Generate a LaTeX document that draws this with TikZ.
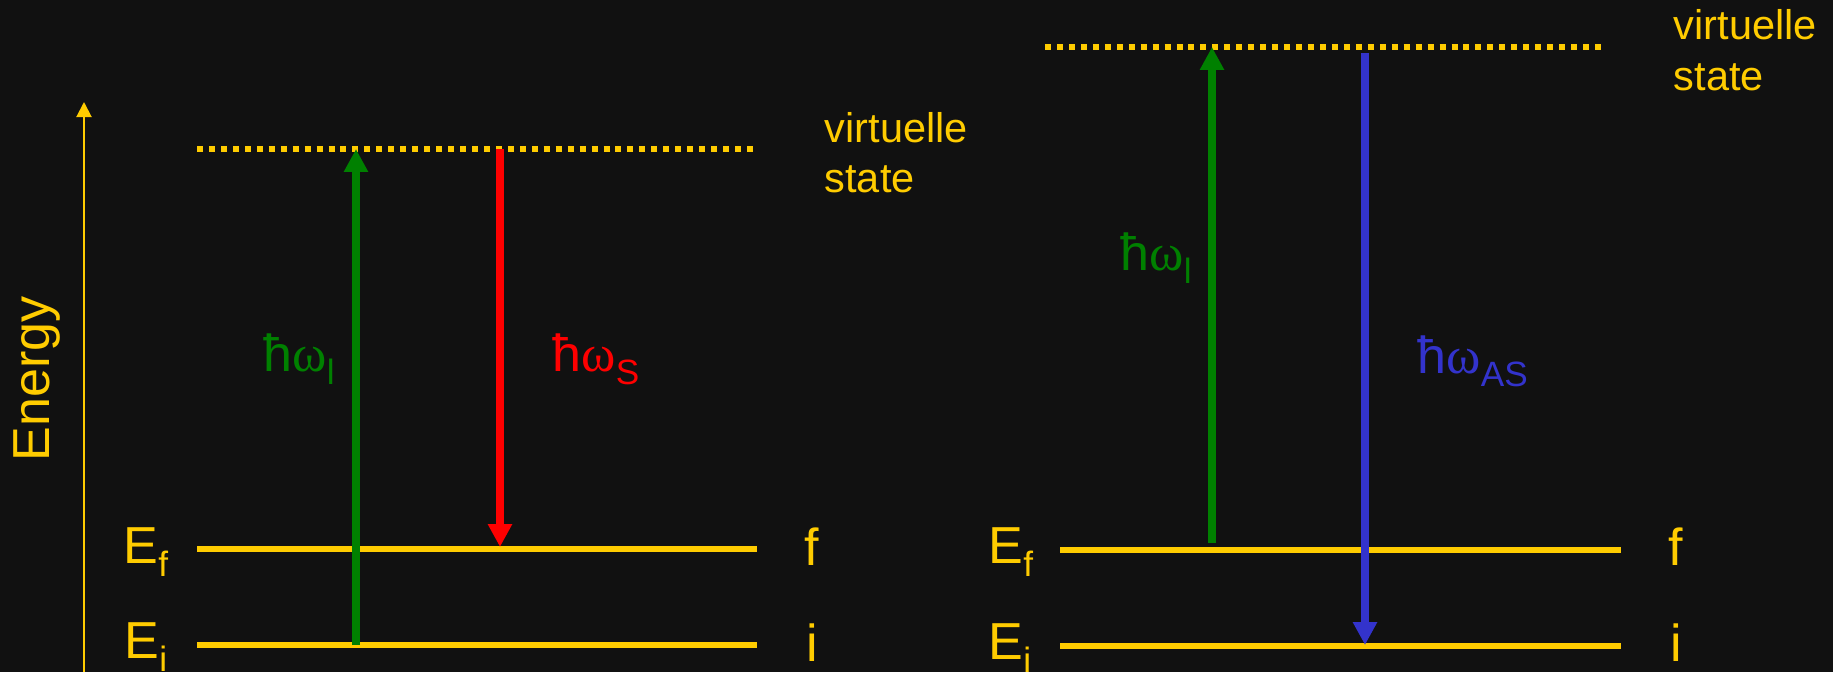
\documentclass[tikz,border=0pt]{standalone}
\usepackage{fontspec}
\setmainfont{Liberation Sans}
\newfontfamily\greekserif{Liberation Serif}
\usetikzlibrary{arrows.meta}

\definecolor{bg}{HTML}{111111}
\definecolor{gold}{HTML}{FFCC00}
\definecolor{lasergreen}{HTML}{008000}
\definecolor{stokesred}{HTML}{FF0000}
\definecolor{asblue}{HTML}{3333CC}

\newcommand{\mainsize}{\fontsize{14.8pt}{17pt}\selectfont}
\newcommand{\subsize}{\fontsize{10pt}{12pt}\selectfont}
\newcommand{\lowsub}[1]{\raisebox{-3.8pt}{\subsize #1}}
\newcommand{\hbaromega}{ħ{\greekserif ω}}

\tikzset{
  txt/.style={text=gold, inner sep=0pt, font=\mainsize},
  smalltxt/.style={text=gold, inner sep=0pt, font=\fontsize{11.8pt}{14pt}\selectfont},
  photonlabel/.style={inner sep=0pt, font=\mainsize, anchor=base west},
  level/.style={draw=gold, line width=1.7pt},
  virtual/.style={draw=gold, line width=1.7pt, dash pattern=on 1.7pt off 1.7pt},
  photon/.style={line width=2.27pt, -{Triangle[width=6.5pt,length=6.5pt]}},
  axisline/.style={draw=gold, line width=0.57pt, -{Triangle[width=4.3pt,length=4.3pt]}}
}

\begin{document}
\begin{tikzpicture}[x=0.01cm, y=-0.01cm]
  % canvas
  \fill[bg] (0,0) rectangle (1833,672);
  \useasboundingbox (0,0) rectangle (1833,672);

  % energy axis
  \coordinate (axbot) at (84,672);
  \coordinate (axtop) at (84,102);
  \draw[axisline] (axbot) -- (axtop);
  \node[txt, rotate=90, anchor=base west] (energy) at (50,462) {Energy};

  % ---------- Stokes scattering ----------
  \coordinate (vLa) at (197,149);  \coordinate (vLb) at (754,149);
  \coordinate (fLa) at (197,549);  \coordinate (fLb) at (757,549);
  \coordinate (iLa) at (197,645);  \coordinate (iLb) at (757,645);
  \draw[virtual] (vLa) -- (vLb);
  \draw[level] (fLa) -- (fLb);
  \draw[level] (iLa) -- (iLb);

  \node[txt, anchor=base west] (EfL) at (123,563) {E\lowsub{f}};
  \node[txt, anchor=base west] (EiL) at (124,658) {E\lowsub{i}};
  \node[txt, anchor=base] (fL) at (812,565) {f};
  \node[txt, anchor=base] (iL) at (812,661) {i};
  \node[smalltxt, anchor=base west] (virtL1) at (824,142) {virtuelle};
  \node[smalltxt, anchor=base west] (virtL2) at (824,192) {state};

  \coordinate (gLstart) at (356,645); \coordinate (gLend) at (356,149);
  \coordinate (rLstart) at (500,149); \coordinate (rLend) at (500,547);
  \draw[photon, lasergreen] (gLstart) -- (gLend);
  \draw[photon, stokesred] (rLstart) -- (rLend);
  \node[photonlabel, text=lasergreen] (wlL) at (263,371) {\hbaromega\lowsub{l}};
  \node[photonlabel, text=stokesred] (wS) at (552,371) {\hbaromega\lowsub{S}};

  % ---------- anti-Stokes scattering ----------
  \coordinate (vRa) at (1045,47);  \coordinate (vRb) at (1603,47);
  \coordinate (fRa) at (1060,550); \coordinate (fRb) at (1621,550);
  \coordinate (iRa) at (1060,646); \coordinate (iRb) at (1621,646);
  \draw[virtual] (vRa) -- (vRb);
  \draw[level] (fRa) -- (fRb);
  \draw[level] (iRa) -- (iRb);

  \node[txt, anchor=base west] (EfR) at (988,563) {E\lowsub{f}};
  \node[txt, anchor=base west] (EiR) at (988,659) {E\lowsub{i}};
  \node[txt, anchor=base] (fR) at (1676,565) {f};
  \node[txt, anchor=base] (iR) at (1676,661) {i};
  \node[smalltxt, anchor=base west] (virtR1) at (1673,39) {virtuelle};
  \node[smalltxt, anchor=base west] (virtR2) at (1673,90) {state};

  \coordinate (gRstart) at (1212,543); \coordinate (gRend) at (1212,47);
  \coordinate (bRstart) at (1365,53);  \coordinate (bRend) at (1365,645);
  \draw[photon, lasergreen] (gRstart) -- (gRend);
  \draw[photon, asblue] (bRstart) -- (bRend);
  \node[photonlabel, text=lasergreen] (wlR) at (1120,270) {\hbaromega\lowsub{l}};
  \node[photonlabel, text=asblue] (wAS) at (1417,373) {\hbaromega\lowsub{AS}};
\end{tikzpicture}
\end{document}
